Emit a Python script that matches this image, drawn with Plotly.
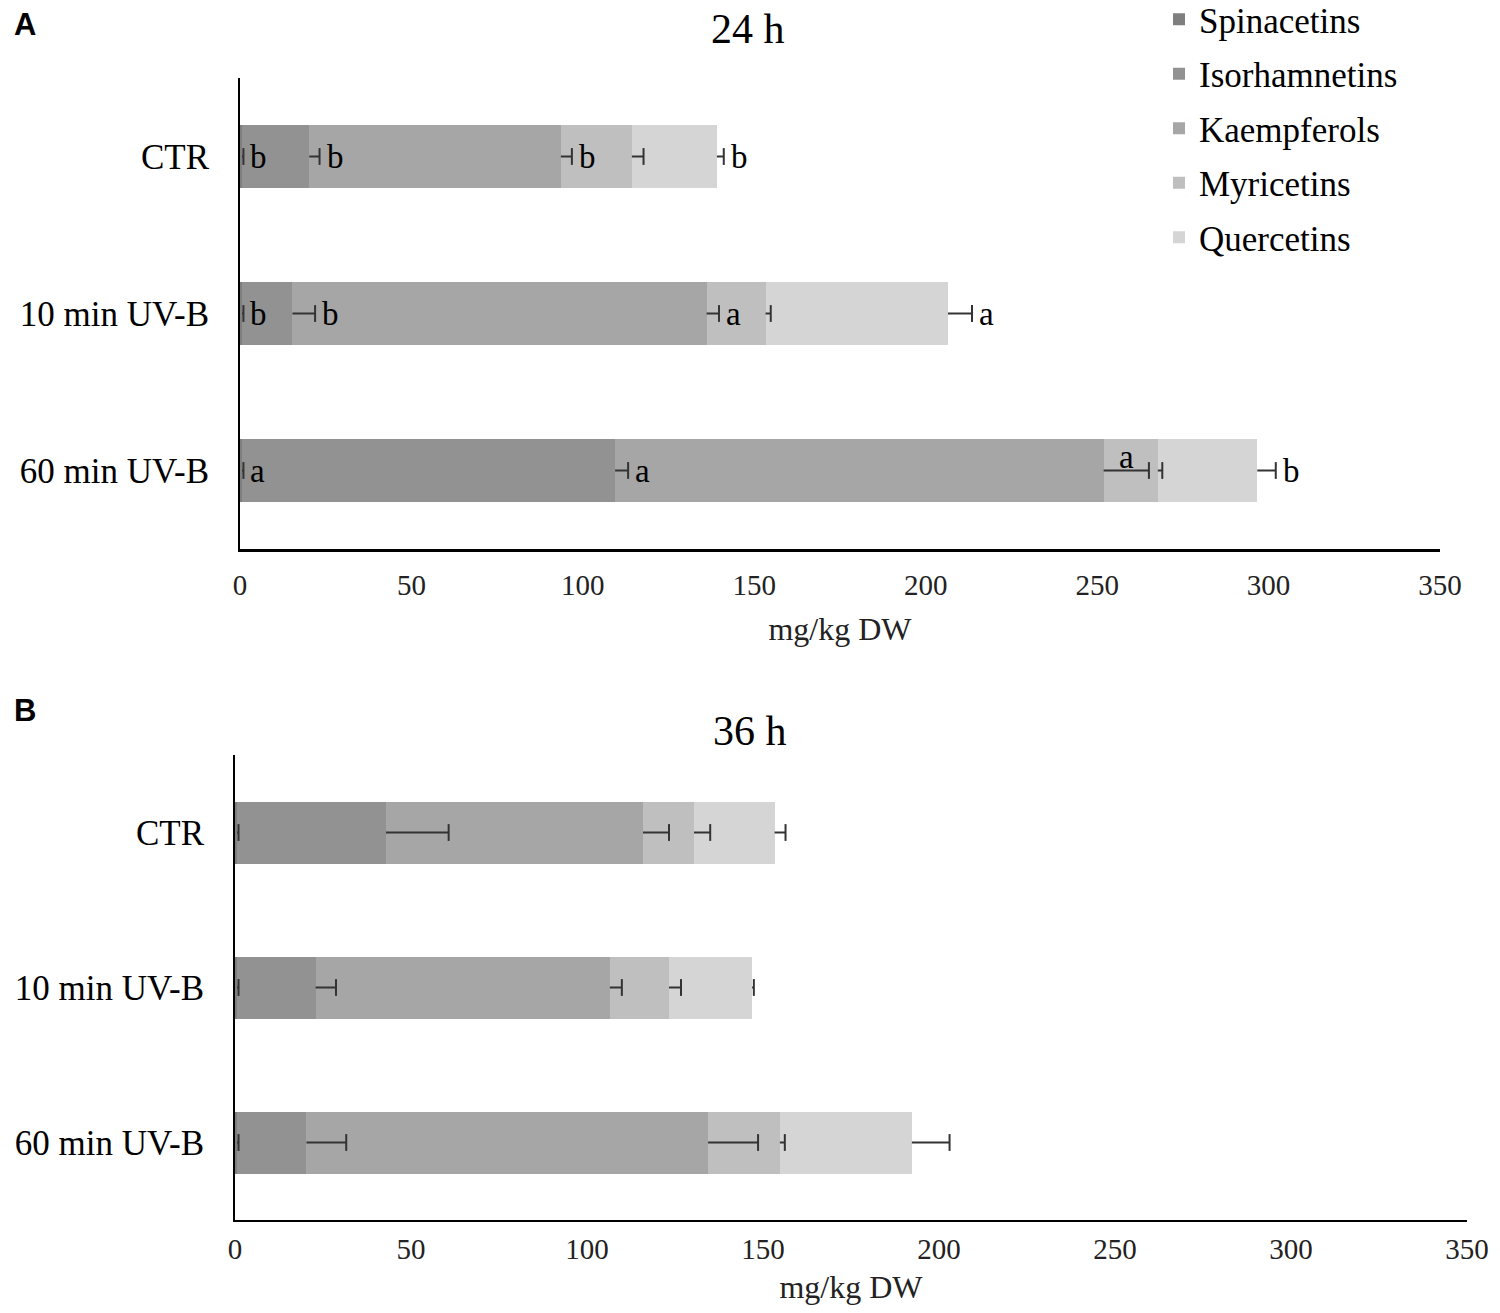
import numpy as np
import plotly.graph_objects as go

# ---------------- data ----------------
categories = ["CTR", "10 min UV-B", "60 min UV-B"]
series_names = ["Spinacetins", "Isorhamnetins", "Kaempferols", "Myricetins", "Quercetins"]
series_colors = ["#7f7f7f", "#929292", "#a6a6a6", "#bfbfbf", "#d5d5d5"]

# 24 h (panel A)
spin_24 = [0.6, 0.6, 0.6]
isor_24 = [19.6, 14.7, 108.8]
kaem_24 = [73.4, 120.8, 142.5]
myri_24 = [20.7, 17.2, 15.8]
quer_24 = [24.8, 53.2, 29.0]

spin_24_err = [0.4, 0.4, 0.4]
isor_24_err = [3.0, 6.6, 3.8]
kaem_24_err = [3.2, 3.6, 13.2]
myri_24_err = [3.4, 1.5, 1.3]
quer_24_err = [2.0, 7.0, 5.4]

spin_24_let = ["b", "b", "a"]
isor_24_let = ["b", "b", "a"]
kaem_24_let = ["b", "a", "a"]
myri_24_let = ["", "", ""]
quer_24_let = ["b", "a", "b"]

# 36 h (panel B)
spin_36 = [0.6, 0.6, 0.6]
isor_36 = [42.3, 22.3, 19.7]
kaem_36 = [73.0, 83.6, 114.1]
myri_36 = [14.5, 16.8, 20.4]
quer_36 = [22.9, 23.6, 37.5]

spin_36_err = [0.4, 0.4, 0.4]
isor_36_err = [17.8, 5.8, 11.3]
kaem_36_err = [7.4, 3.4, 14.2]
myri_36_err = [4.6, 3.4, 1.4]
quer_36_err = [3.1, 0.5, 10.7]

x_ticks = [0, 50, 100, 150, 200, 250, 300, 350]

panels = [
    dict(vals=[spin_24, isor_24, kaem_24, myri_24, quer_24],
         errs=[spin_24_err, isor_24_err, kaem_24_err, myri_24_err, quer_24_err],
         lets=[spin_24_let, isor_24_let, kaem_24_let, myri_24_let, quer_24_let],
         xa="x", ya="y"),
    dict(vals=[spin_36, isor_36, kaem_36, myri_36, quer_36],
         errs=[spin_36_err, isor_36_err, kaem_36_err, myri_36_err, quer_36_err],
         lets=None,
         xa="x2", ya="y2"),
]

SERIF = "Liberation Serif"
ERR_COLOR = "#333333"
fig = go.Figure()
annotations = []

for pi, p in enumerate(panels):
    vals = np.array(p["vals"], dtype=float)
    errs = np.array(p["errs"], dtype=float)
    ends = np.cumsum(vals, axis=0)
    for si, name in enumerate(series_names):
        fig.add_trace(go.Bar(
            x=vals[si], y=categories, orientation="h", name=name,
            marker=dict(color=series_colors[si], line=dict(width=0)),
            xaxis=p["xa"], yaxis=p["ya"],
            legendgroup=name, showlegend=(pi == 0),
        ))
    # one-sided (plus) error bars: line from segment end to end+err, cap only at the tip
    for si, name in enumerate(series_names):
        fig.add_trace(go.Scatter(
            x=ends[si] + errs[si], y=categories, mode="markers",
            marker=dict(symbol="line-ns", size=12, color=ERR_COLOR,
                        line=dict(width=2, color=ERR_COLOR)),
            error_x=dict(type="data", symmetric=False, array=[0] * len(categories),
                         arrayminus=errs[si], color=ERR_COLOR, thickness=2, width=0),
            xaxis=p["xa"], yaxis=p["ya"], showlegend=False, hoverinfo="skip",
        ))
    if p["lets"] is not None:
        for si in range(len(series_names)):
            for ci, cat in enumerate(categories):
                t = p["lets"][si][ci]
                if not t:
                    continue
                tip = ends[si][ci] + errs[si][ci]
                above = (si == 2 and ci == 2)
                if above:
                    annotations.append(dict(
                        x=ends[si][ci] + errs[si][ci] / 2, y=cat,
                        xref=p["xa"], yref=p["ya"], text=t, showarrow=False,
                        xanchor="center", yanchor="middle", yshift=14,
                        font=dict(family=SERIF, size=33, color="black")))
                else:
                    annotations.append(dict(
                        x=tip, y=cat, xref=p["xa"], yref=p["ya"], text=t,
                        showarrow=False, xanchor="left", yanchor="middle",
                        xshift=5, font=dict(family=SERIF, size=33, color="black")))

W, H = 1500, 1313
OX, OY = 8, 8  # page offset of the figure


def pxx(px):
    return (px - OX) / W


def pyy(py):
    return 1 - (py - OY) / H


annotations += [
    dict(text="<b>A</b>", x=pxx(12), y=pyy(24), xref="paper", yref="paper",
         xanchor="left", yanchor="middle", showarrow=False,
         font=dict(family="Liberation Sans", size=31, color="black")),
    dict(text="<b>B</b>", x=pxx(12), y=pyy(710), xref="paper", yref="paper",
         xanchor="left", yanchor="middle", showarrow=False,
         font=dict(family="Liberation Sans", size=31, color="black")),
    dict(text="24 h", x=pxx(748), y=pyy(29), xref="paper", yref="paper",
         xanchor="center", yanchor="middle", showarrow=False,
         font=dict(family=SERIF, size=42, color="black")),
    dict(text="36 h", x=pxx(750), y=pyy(731), xref="paper", yref="paper",
         xanchor="center", yanchor="middle", showarrow=False,
         font=dict(family=SERIF, size=42, color="black")),
]

xcommon = dict(range=[0, 350], tickvals=x_ticks, showline=True, linecolor="black",
               showgrid=False, zeroline=False, ticks="", automargin=False,
               tickfont=dict(family=SERIF, size=29, color="#222222"),
               title=dict(text="mg/kg DW", font=dict(family=SERIF, size=32, color="#222222")))
ycommon = dict(type="category", categoryarray=categories, categoryorder="array",
               autorange="reversed", showline=True, linecolor="black", linewidth=2,
               showgrid=False, zeroline=False, ticks="", automargin=False,
               tickfont=dict(family=SERIF, size=35, color="black"),
               ticklabelstandoff=22)

fig.update_layout(
    width=W, height=H, margin=dict(l=0, r=0, t=0, b=0, autoexpand=False),
    paper_bgcolor="white", plot_bgcolor="white",
    barmode="stack", bargap=0.6,
    xaxis=dict(**xcommon, domain=[pxx(240), pxx(1440)], anchor="y", linewidth=3,
               ticklabelstandoff=8),
    yaxis=dict(**ycommon, domain=[pyy(549), pyy(78)], anchor="x"),
    xaxis2=dict(**xcommon, domain=[pxx(235), pxx(1467)], anchor="y2", linewidth=2,
                ticklabelstandoff=2),
    yaxis2=dict(**ycommon, domain=[pyy(1220), pyy(755)], anchor="x2"),
    legend=dict(x=pxx(1159), y=pyy(-10), xanchor="left", yanchor="top",
                traceorder="grouped", tracegroupgap=6,
                font=dict(family=SERIF, size=35, color="black"),
                bgcolor="rgba(0,0,0,0)"),
    annotations=annotations,
    showlegend=True,
)
fig.layout.xaxis.title.standoff = 18
fig.layout.xaxis2.title.standoff = 12

fig.write_html("out.html")
